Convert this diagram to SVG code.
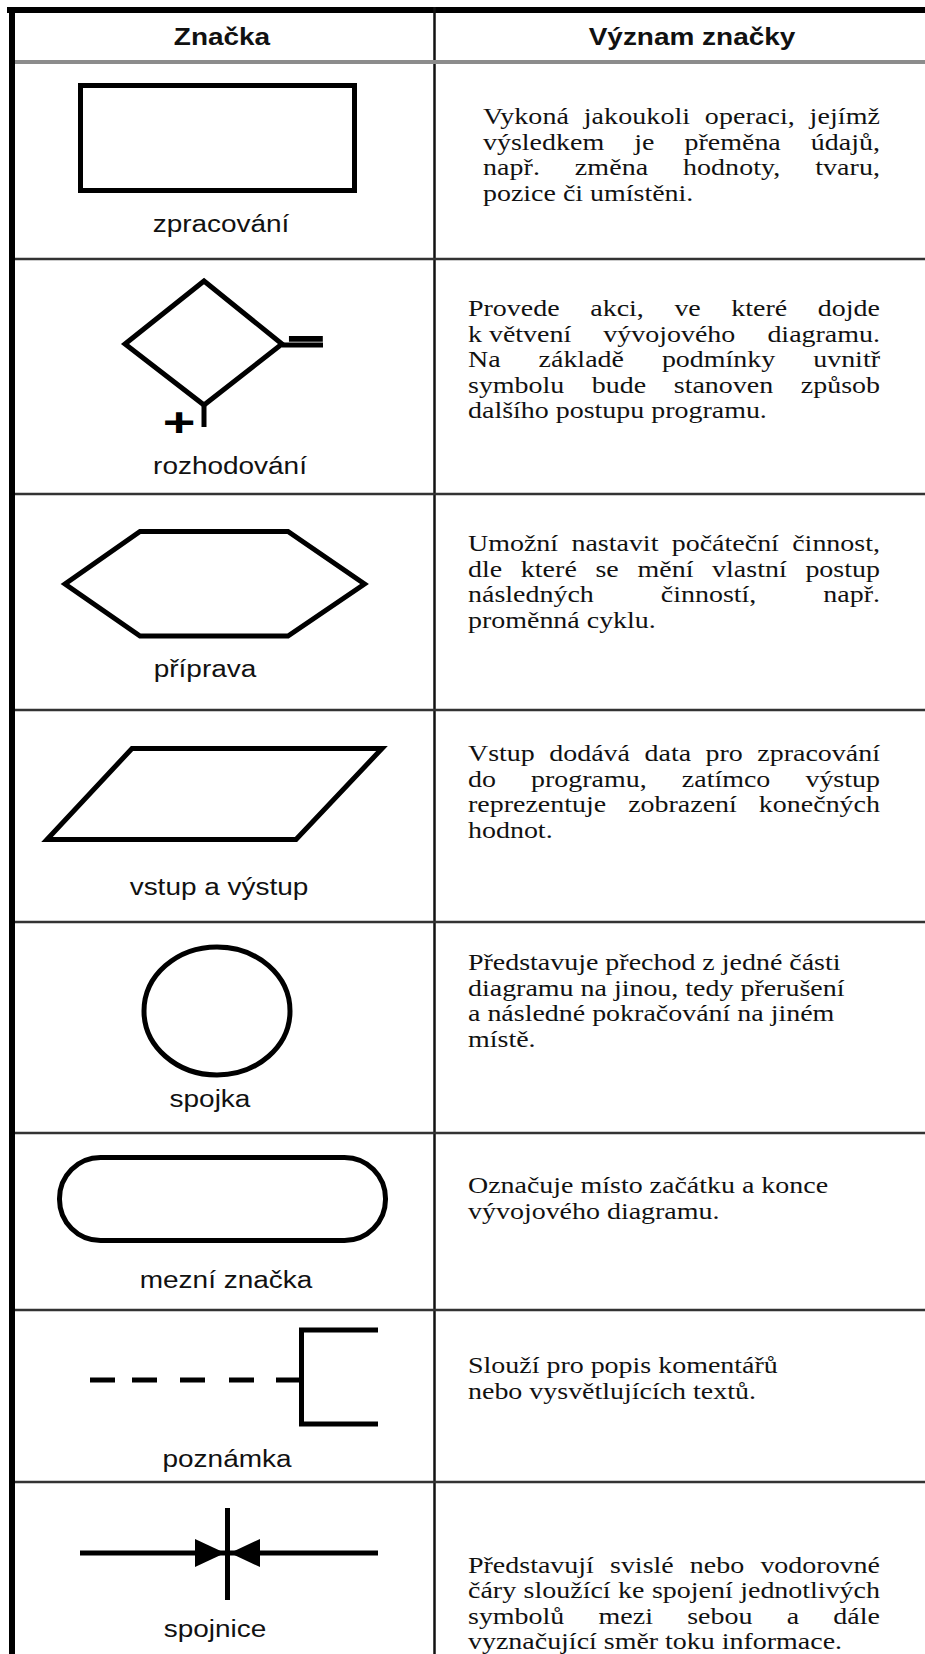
<svg xmlns="http://www.w3.org/2000/svg" width="925" height="1654" viewBox="0 0 925 1654">
<defs>
<style>
.h{font-family:"Liberation Sans",Arial,sans-serif;font-weight:bold;font-size:23.5px;fill:#111;text-anchor:middle}
.l{font-family:"Liberation Sans",Arial,sans-serif;font-size:23.5px;fill:#111;text-anchor:middle}
.d{font-family:"Liberation Serif","Times New Roman",serif;font-size:23.5px;fill:#111}
.pm{font-family:"Liberation Sans",Arial,sans-serif;font-weight:bold;fill:#000;text-anchor:middle}
.sym{fill:none;stroke:#000;stroke-width:5;stroke-linejoin:miter}
.grid{stroke:#333;stroke-width:2.5}
</style>
<marker id="arr" markerUnits="userSpaceOnUse" markerWidth="30" markerHeight="28" refX="30" refY="14" orient="auto"><path d="M0,0 L30,14 L0,28 z" fill="#000"/></marker>
</defs>
<rect width="925" height="1654" fill="#fff"/>
<g id="table">
<rect x="7" y="7" width="918" height="6" fill="#000"/>
<rect x="9" y="7" width="6" height="1647" fill="#000"/>
<line x1="434.5" y1="7" x2="434.5" y2="1654" stroke="#111" stroke-width="2.5"/>
<rect x="15" y="60" width="910" height="4" fill="#8c8c8c"/>
<line class="grid" x1="15" y1="259" x2="925" y2="259"/>
<line class="grid" x1="15" y1="494" x2="925" y2="494"/>
<line class="grid" x1="15" y1="710" x2="925" y2="710"/>
<line class="grid" x1="15" y1="922" x2="925" y2="922"/>
<line class="grid" x1="15" y1="1133" x2="925" y2="1133"/>
<line class="grid" x1="15" y1="1310" x2="925" y2="1310"/>
<line class="grid" x1="15" y1="1482" x2="925" y2="1482"/>
</g>
<g id="header">
<text class="h" transform="translate(222,45) scale(1.19,1)">Značka</text>
<text class="h" transform="translate(692,45) scale(1.19,1)">Význam značky</text>
</g>
<g id="row-zpracovani">
<rect class="sym" x="80.5" y="85.5" width="274" height="105"/>
<text class="l" transform="translate(221,232) scale(1.19,1)">zpracování</text>
<text class="d" transform="translate(483,124) scale(1.19,1)" word-spacing="6.3" textLength="333.6" lengthAdjust="spacing">Vykoná jakoukoli operaci, jejímž</text>
<text class="d" transform="translate(483,149.5) scale(1.19,1)" word-spacing="19.4" textLength="333.6" lengthAdjust="spacing">výsledkem je přeměna údajů,</text>
<text class="d" transform="translate(483,175) scale(1.19,1)" word-spacing="23.3" textLength="333.6" lengthAdjust="spacing">např. změna hodnoty, tvaru,</text>
<text class="d" transform="translate(483,200.5) scale(1.19,1)">pozice či umístěni.</text>
</g>
<g id="row-rozhodovani">
<polygon class="sym" stroke-width="4.5" points="204,281 282,344 204,405 125,344"/>
<line class="sym" x1="282" y1="345" x2="323" y2="345"/>
<line class="sym" x1="204" y1="405" x2="204" y2="427"/>
<text class="pm" font-size="52" transform="translate(306,356) scale(1.3,1)">−</text>
<text class="pm" font-size="40" transform="translate(179,436) scale(1.4,1)">+</text>
<text class="l" transform="translate(230,474) scale(1.19,1)">rozhodování</text>
<text class="d" transform="translate(468,316) scale(1.19,1)" word-spacing="19.8" textLength="346.2" lengthAdjust="spacing">Provede akci, ve které dojde</text>
<text class="d" transform="translate(468,341.5) scale(1.19,1)"><tspan x="0">k větvení </tspan><tspan x="113.7">vývojového </tspan><tspan x="251.6">diagramu.</tspan></text>
<text class="d" transform="translate(468,367) scale(1.19,1)" word-spacing="26" textLength="346.2" lengthAdjust="spacing">Na základě podmínky uvnitř</text>
<text class="d" transform="translate(468,392.5) scale(1.19,1)" word-spacing="17.3" textLength="346.2" lengthAdjust="spacing">symbolu bude stanoven způsob</text>
<text class="d" transform="translate(468,418) scale(1.19,1)">dalšího postupu programu.</text>
</g>
<g id="row-priprava">
<polygon class="sym" points="140,531.5 288,531.5 364.5,584 288,636 140,636 65,584"/>
<text class="l" transform="translate(205,677) scale(1.19,1)">příprava</text>
<text class="d" transform="translate(468,551) scale(1.19,1)" word-spacing="5.3" textLength="346.2" lengthAdjust="spacing">Umožní nastavit počáteční činnost,</text>
<text class="d" transform="translate(468,576.5) scale(1.19,1)" word-spacing="9.8" textLength="346.2" lengthAdjust="spacing">dle které se mění vlastní postup</text>
<text class="d" transform="translate(468,602) scale(1.19,1)" word-spacing="50.4" textLength="346.2" lengthAdjust="spacing">následných činností, např.</text>
<text class="d" transform="translate(468,627.5) scale(1.19,1)">proměnná cyklu.</text>
</g>
<g id="row-vstup-vystup">
<polygon class="sym" points="132,748.5 382,748.5 296,839.5 47,839.5"/>
<text class="l" transform="translate(219,895) scale(1.19,1)">vstup a výstup</text>
<text class="d" transform="translate(468,761) scale(1.19,1)" word-spacing="6.3" textLength="346.2" lengthAdjust="spacing">Vstup dodává data pro zpracování</text>
<text class="d" transform="translate(468,786.5) scale(1.19,1)" word-spacing="23.6" textLength="346.2" lengthAdjust="spacing">do programu, zatímco výstup</text>
<text class="d" transform="translate(468,812) scale(1.19,1)" word-spacing="12.6" textLength="346.2" lengthAdjust="spacing">reprezentuje zobrazení konečných</text>
<text class="d" transform="translate(468,837.5) scale(1.19,1)">hodnot.</text>
</g>
<g id="row-spojka">
<ellipse class="sym" stroke-width="4.5" cx="217" cy="1011" rx="73" ry="64"/>
<text class="l" transform="translate(210,1107) scale(1.19,1)">spojka</text>
<text class="d" transform="translate(468,970) scale(1.19,1)">Představuje přechod z jedné části</text>
<text class="d" transform="translate(468,995.5) scale(1.19,1)">diagramu na jinou, tedy přerušení</text>
<text class="d" transform="translate(468,1021) scale(1.19,1)">a následné pokračování na jiném</text>
<text class="d" transform="translate(468,1046.5) scale(1.19,1)">místě.</text>
</g>
<g id="row-mezni-znacka">
<rect class="sym" x="59.5" y="1157.5" width="326" height="83" rx="41" ry="41"/>
<text class="l" transform="translate(226,1288) scale(1.19,1)">mezní značka</text>
<text class="d" transform="translate(468,1193) scale(1.19,1)">Označuje místo začátku a konce</text>
<text class="d" transform="translate(468,1218.5) scale(1.19,1)">vývojového diagramu.</text>
</g>
<g id="row-poznamka">
<line class="sym" stroke-width="6" x1="90" y1="1380" x2="302" y2="1380" stroke-dasharray="25 17 25 23 25 24 25 22 30"/>
<path class="sym" stroke-width="6" d="M378,1330 H301.5 V1424 H378"/>
<text class="l" transform="translate(227,1467) scale(1.19,1)">poznámka</text>
<text class="d" transform="translate(468,1373) scale(1.19,1)">Slouží pro popis komentářů</text>
<text class="d" transform="translate(468,1398.5) scale(1.19,1)">nebo vysvětlujících textů.</text>
</g>
<g id="row-spojnice">
<line class="sym" x1="80" y1="1553" x2="225" y2="1553" marker-end="url(#arr)"/>
<line class="sym" x1="378" y1="1553" x2="230" y2="1553" marker-end="url(#arr)"/>
<line class="sym" stroke-width="4" x1="227.5" y1="1508" x2="227.5" y2="1600"/>
<text class="l" transform="translate(215,1637) scale(1.19,1)">spojnice</text>
<text class="d" transform="translate(468,1573) scale(1.19,1)" word-spacing="7.7" textLength="346.2" lengthAdjust="spacing">Představují svislé nebo vodorovné</text>
<text class="d" transform="translate(468,1598) scale(1.19,1)" word-spacing="0.4" textLength="346.2" lengthAdjust="spacing">čáry sloužící ke spojení jednotlivých</text>
<text class="d" transform="translate(468,1623.5) scale(1.19,1)" word-spacing="22.9" textLength="346.2" lengthAdjust="spacing">symbolů mezi sebou a dále</text>
<text class="d" transform="translate(468,1649) scale(1.19,1)">vyznačující směr toku informace.</text>
</g>
</svg>
